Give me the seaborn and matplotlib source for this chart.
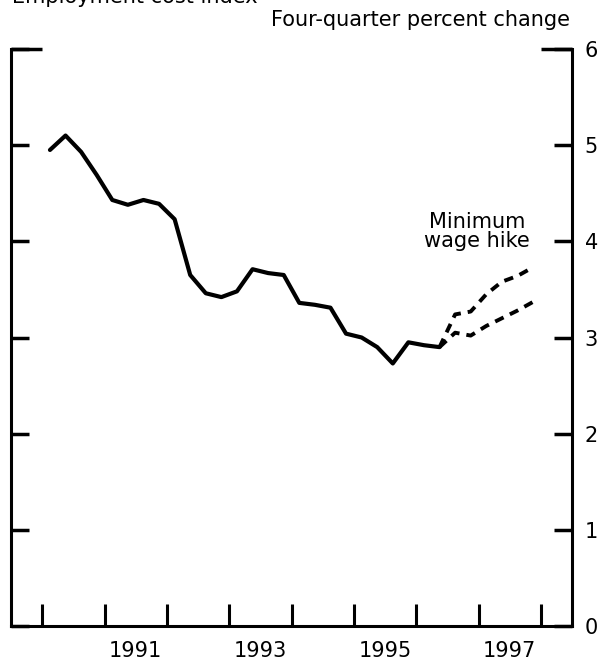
import numpy as np
import pandas as pd
import seaborn as sns
import matplotlib.pyplot as plt

# quarterly data, 1990Q1 - 1997Q4
quarters = pd.period_range("1990Q1", "1997Q4", freq="Q")
actual = [4.95, 5.10, 4.93, 4.69, 4.43, 4.38, 4.43, 4.39,
          4.23, 3.65, 3.46, 3.42, 3.48, 3.71, 3.67, 3.65,
          3.36, 3.34, 3.31, 3.04, 3.00, 2.90, 2.73, 2.95,
          2.92, 2.90]
with_hike = [2.90, 3.24, 3.27, 3.45, 3.58, 3.64, 3.73]
baseline = [2.90, 3.05, 3.02, 3.12, 3.20, 3.28, 3.37]
year_ticks = [1990, 1991, 1992, 1993, 1994, 1995, 1996, 1997, 1998]
year_labels = ["1991", "1993", "1995", "1997"]
y_ticks = [0, 1, 2, 3, 4, 5, 6]

t = np.array([q.year + (q.quarter - 0.5) / 4 for q in quarters])
n_act = len(actual)
df = pd.concat([
    pd.DataFrame({"t": t[:n_act], "v": actual, "s": "actual"}),
    pd.DataFrame({"t": t[n_act - 1:], "v": with_hike, "s": "hike"}),
    pd.DataFrame({"t": t[n_act - 1:], "v": baseline, "s": "base"}),
])

sns.set_style("ticks", {"axes.edgecolor": "black", "text.color": "black",
                        "xtick.color": "black", "ytick.color": "black"})
plt.rcParams["font.family"] = ["DejaVu Sans"]
plt.rcParams["font.size"] = 15

fig = plt.figure(figsize=(6.07, 6.63), dpi=100)
ax = fig.add_axes([11 / 607, 37 / 663, 561 / 607, 577 / 663])

sns.lineplot(data=df[df.s == "actual"], x="t", y="v", color="black",
             lw=3, ax=ax, legend=False)
for s in ["hike", "base"]:
    sns.lineplot(data=df[df.s == s], x="t", y="v", color="black", lw=2.8,
                 ax=ax, legend=False).lines[-1].set_dashes([2.4, 1.8])

ax.set_xlim(1989.5, 1998.5)
ax.set_ylim(0, 6)
ax.set_xlabel("")
ax.set_ylabel("")

ax.set_xticks(year_ticks)
ax.set_xticklabels([])
ax.set_xticks([int(y) + 0.5 for y in year_labels], minor=True)
ax.set_xticklabels(year_labels, minor=True)
ax.tick_params(axis="x", which="major", direction="in", length=16, width=2.2)
ax.tick_params(axis="x", which="minor", length=0, pad=11, labelsize=15)

ax.set_yticks(y_ticks)
ax.set_yticklabels([str(v) for v in y_ticks])
ax.tick_params(axis="y", direction="in", length=13, width=2.5, left=True,
               right=True, labelleft=False, labelright=True, pad=9,
               labelsize=15)

ax.spines["top"].set_visible(False)
for side in ["left", "right", "bottom"]:
    ax.spines[side].set_linewidth(2.2)

# short top caps at the 6 line
ax.hlines(6, 0, 0.055, transform=ax.get_yaxis_transform(), color="black",
          lw=2.5, clip_on=False)
ax.hlines(6, 0.945, 1, transform=ax.get_yaxis_transform(), color="black",
          lw=2.5, clip_on=False)

ax.text(1996.98, 4.1, "Minimum\nwage hike", ha="center", va="center",
        fontsize=15, linespacing=0.95)

fig.text(570 / 607, 1 - 20 / 663, "Four-quarter percent change", ha="right",
         va="center", fontsize=15)
# title line, cropped at the top edge as in the source scan
fig.text(12 / 607, 1 - 3 / 663, "Employment cost index", ha="left",
         va="baseline", fontsize=15)

fig.savefig("out.png", dpi=100)
